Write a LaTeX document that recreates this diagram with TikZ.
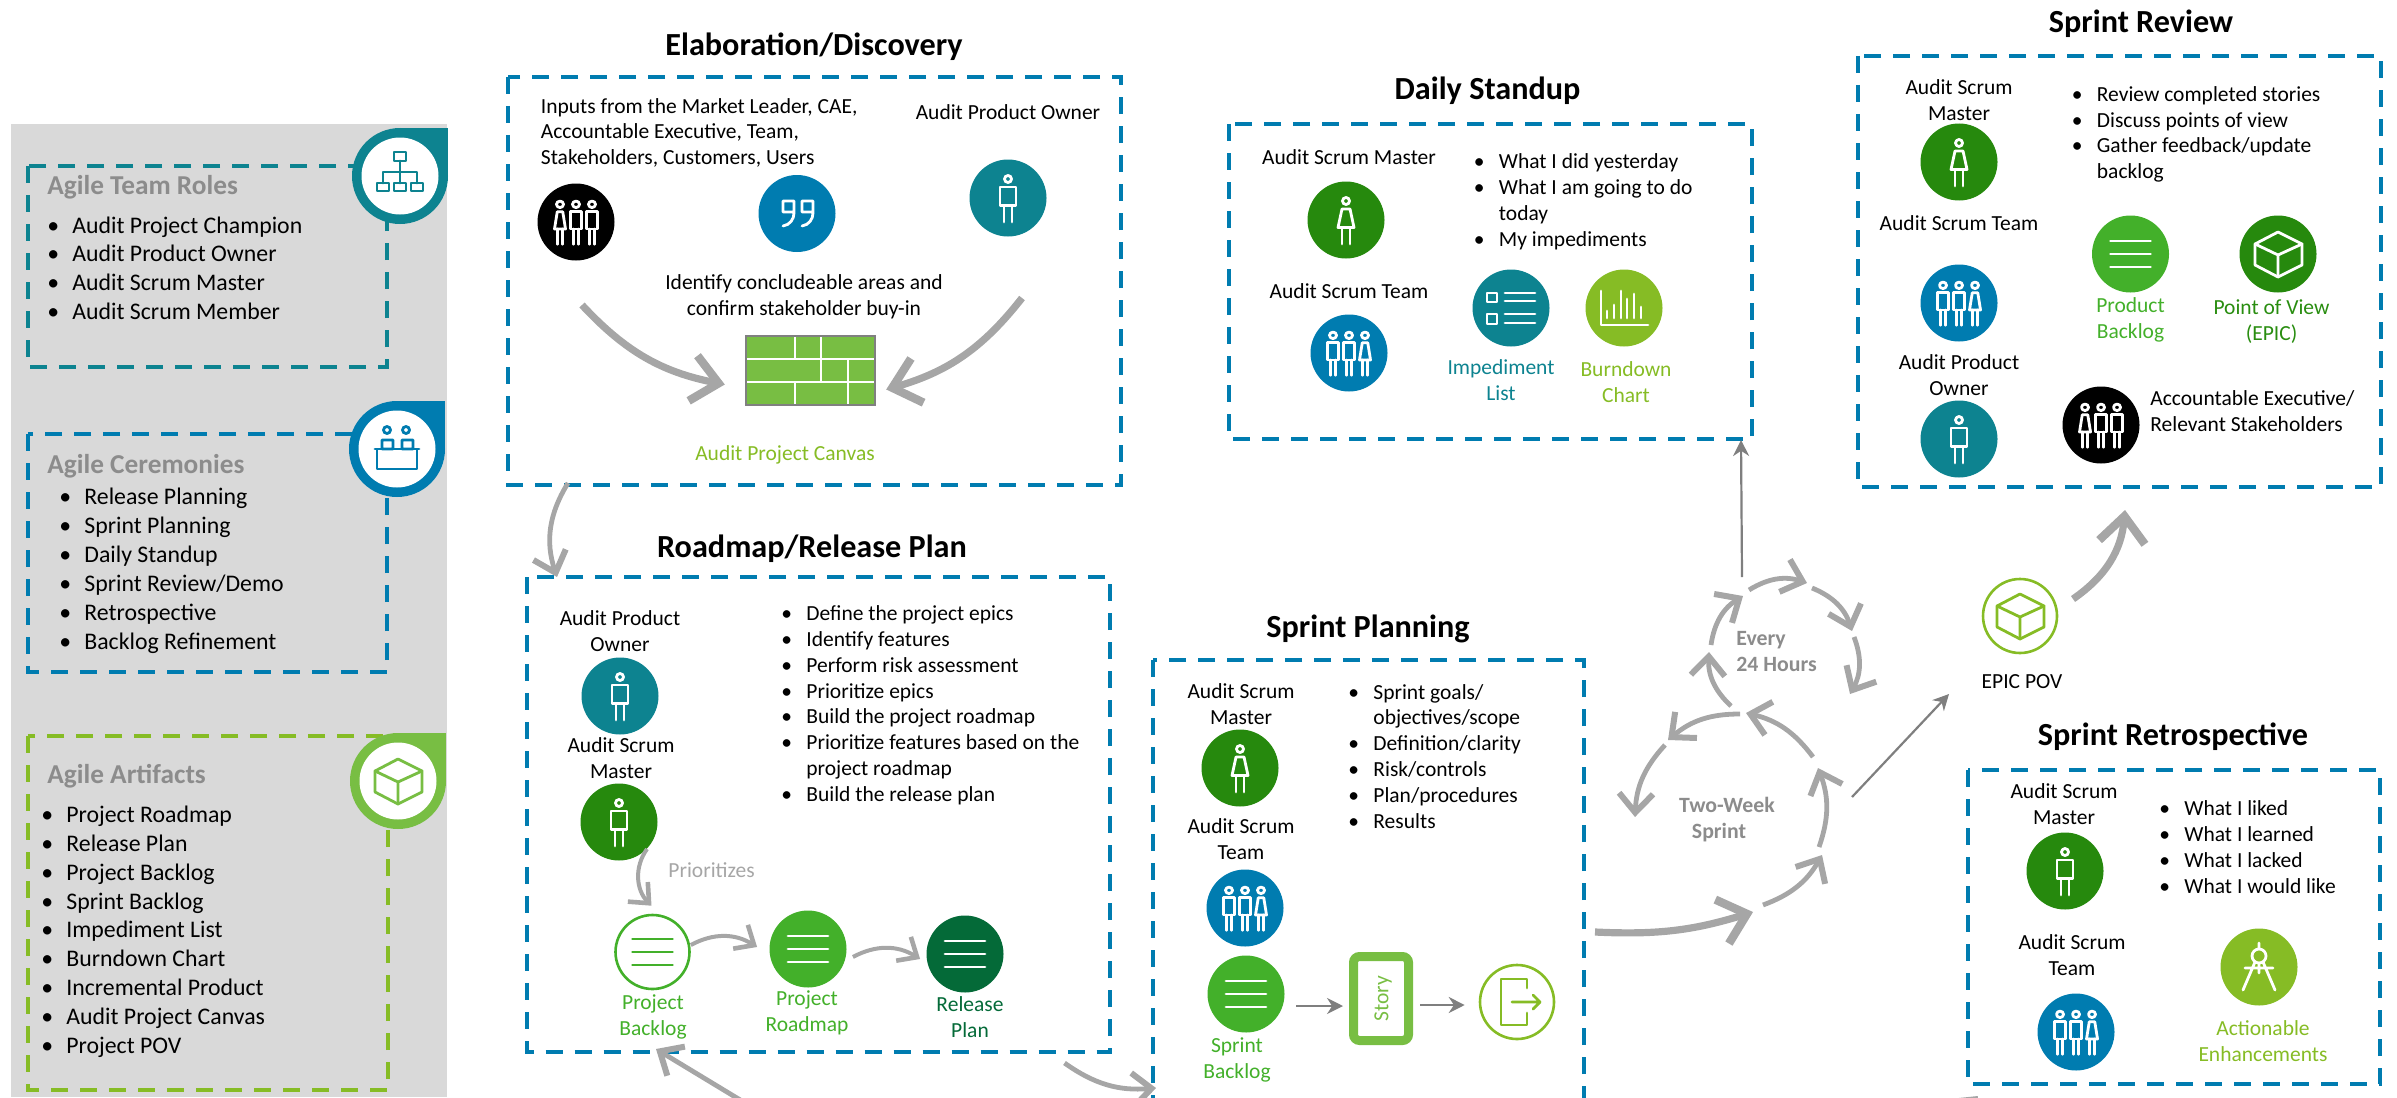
\documentclass[tikz,border=0pt]{standalone}
\usepackage{fontspec}
\setmainfont{Carlito}
\usetikzlibrary{positioning, calc, arrows.meta}
\definecolor{teal1}{HTML}{0D8390}
\definecolor{blue1}{HTML}{007CB0}
\definecolor{lime1}{HTML}{86BC25}
\definecolor{lime2}{HTML}{78BE43}
\definecolor{green1}{HTML}{43B02A}
\definecolor{green2}{HTML}{26890D}
\definecolor{green3}{HTML}{046A38}
\definecolor{sketchgray}{HTML}{A6A6A6}
\definecolor{thingray}{HTML}{7F7F7F}
\definecolor{capgray}{HTML}{8C8C8C}
\newcommand{\itm}[1]{\makebox[12.5pt][l]{\textbullet}#1}
\newcommand{\ind}{\hspace*{12.5pt}}
\tikzset{dashbox/.style={draw=#1, line width=2pt, dash pattern=on 8.5pt off 6pt}}
\tikzset{disc/.style={circle, minimum size=38.5pt, inner sep=0pt}}
\tikzset{lbl/.style={font=\fontsize{10.75}{12.9}\selectfont, align=center, inner sep=0pt}}
\tikzset{lst/.style={font=\fontsize{10.75}{12.9}\selectfont, align=left, inner sep=0pt, anchor=west, yshift=-.4pt}}
\tikzset{leglst/.style={font=\fontsize{11.9}{14.45}\selectfont, align=left, inner sep=0pt, anchor=west, yshift=-.1pt}}
\tikzset{ttl/.style={font=\fontsize{16.1}{19}\selectfont\bfseries, inner sep=0pt, yshift=-.7pt}}
\tikzset{legttl/.style={font=\fontsize{13.65}{16}\selectfont\bfseries, text=capgray, inner sep=0pt, anchor=west, yshift=-.7pt}}
\tikzset{capt/.style={font=\fontsize{10.9}{13}\selectfont\bfseries, text=capgray, inner sep=0pt, yshift=-.8pt}}
\tikzset{icon/.style={draw=#1, line width=1.4pt, line cap=round, line join=round}, icon/.default=white}
\tikzset{sketch/.style={draw=sketchgray, line width=2.4pt, -{Straight Barb[length=9.5pt, width=17pt, line width=3pt]}}}
\tikzset{sketchbig/.style={draw=sketchgray, line width=3.6pt, -{Straight Barb[length=13pt, width=23pt, line width=4.2pt]}}}
\tikzset{sketchsm/.style={draw=sketchgray, line width=2pt, -{Straight Barb[length=8pt, width=14pt, line width=2.3pt]}}}
\tikzset{thinarrow/.style={draw=thingray, line width=1.1pt, -{Stealth[length=8pt, width=8pt]}}}
\tikzset{
  pics/manfig/.style={code={
    \draw[icon] (0,-19) circle (3.5);
    \draw[icon] (-#1,-11) rectangle (#1,7.5);
    \draw[icon] (-#1/2,7.5) -- (-#1/2,24) (#1/2,7.5) -- (#1/2,24);
  }},
  pics/womanfig/.style={code={
    \draw[icon] (0,-19) circle (3.5);
    \draw[icon] (-#1/2,-11) -- (#1/2,-11) -- (#1,7.5) -- (-#1,7.5) -- cycle;
    \draw[icon] (-#1/2,7.5) -- (-#1/2,24) (#1/2,7.5) -- (#1/2,24);
  }},
  pics/teammmf/.style={code={
    \path (-16,0) pic[yscale=.93] {manfig=5.5} (0,0) pic[yscale=.93] {manfig=5.5} (16,0) pic[yscale=.93] {womanfig=5.5};
  }},
  pics/teamfmm/.style={code={
    \path (-16,0) pic[yscale=.93] {womanfig=5.5} (0,0) pic[yscale=.93] {manfig=5.5} (16,0) pic[yscale=.93] {manfig=5.5};
  }},
  pics/bars/.style={code={
    \draw[icon=#1] (-20,-13) -- (20,-13) (-20,0) -- (20,0) (-20,13) -- (20,13);
  }},
  pics/cube/.style={code={
    \draw[icon=#1] (0,-22) -- (24,-10) -- (24,11) -- (0,23) -- (-23,11) -- (-23,-10) -- cycle;
    \draw[icon=#1] (-23,-10) -- (0,1) -- (24,-10) (0,1) -- (0,23);
  }},
  pics/badge/.style={code={
    \fill[#1] (0,0) circle (48);
    \fill[#1] (0,0) rectangle (48,-48);
    \fill[white] (0,0) circle (38.5);
  }},
}
\begin{document}
\begin{tikzpicture}[x=.5pt, y=-.5pt]
  \clip (0,0) rectangle (2397,1097);
  \fill[black!15] (11,124) rectangle (447,1097);

  \draw[dashbox=teal1] (28,166) rectangle (387,367);
  \draw[dashbox=blue1] (28,434) rectangle (387,672);
  \draw[dashbox=lime1] (28,736) rectangle (388,1090);

  \path (400,176) pic {badge=teal1};
  \draw[icon=teal1] (394,152) rectangle (406,161) (400,161) -- (400,172) (383,183) -- (383,172) -- (417,172) -- (417,183) (400,172) -- (400,183);
  \draw[icon=teal1] (377,183) rectangle (389,191) (394,183) rectangle (406,191) (411,183) rectangle (423,191);
  \path (397,449) pic {badge=blue1};
  \draw[icon=blue1] (387,430) circle (3.5) (406,430) circle (3.5) (382,440) rectangle (393,449) (402,440) rectangle (413,449);
  \draw[icon=blue1] (375,449) -- (419,449) (377,449) rectangle (417,469);
  \path (398,781) pic {badge=lime2};
  \path (398,781) pic {cube=lime2};

  \node[legttl] (t1) at (47,186) {Agile Team Roles};
  \node[leglst] (l1) at (47,268) {\itm{Audit Project Champion}\\\itm{Audit Product Owner}\\\itm{Audit Scrum Master}\\\itm{Audit Scrum Member}};
  \node[legttl] (t2) at (47,465) {Agile Ceremonies};
  \node[leglst] (l2) at (59,570.5) {\itm{Release Planning}\\\itm{Sprint Planning}\\\itm{Daily Standup}\\\itm{Sprint Review/Demo}\\\itm{Retrospective}\\\itm{Backlog Refinement}};
  \node[legttl] (t3) at (47,775) {Agile Artifacts};
  \node[leglst] (l3) at (41,931.5) {\itm{Project Roadmap}\\\itm{Release Plan}\\\itm{Project Backlog}\\\itm{Sprint Backlog}\\\itm{Impediment List}\\\itm{Burndown Chart}\\\itm{Incremental Product}\\\itm{Audit Project Canvas}\\\itm{Project POV}};

  \node[ttl] (e0) at (814,45) {Elaboration/Discovery};
  \draw[dashbox=blue1] (508,77) rectangle (1121,485);
  \node[lst] (e1) at (540.5,132) {Inputs from the Market Leader, CAE,\\Accountable Executive, Team,\\Stakeholders, Customers, Users};
  \node[lbl] (e2) at (1008,112) {Audit Product Owner};
  \node[disc, fill=black] (e3) at (576,222) {};
  \path (e3) pic {teamfmm};
  \node[disc, fill=blue1] (e4) at (797,213.5) {};
  \draw[icon] (783,201) -- (783,212) -- (794,212) (783,201) -- (794,201) -- (794,213) .. controls (794,219) and (790,225) .. (783,226);
  \draw[icon] (802,201) -- (802,212) -- (813,212) (802,201) -- (813,201) -- (813,213) .. controls (813,219) and (809,225) .. (802,226);
  \node[disc, fill=teal1] (e5) at (1008,198) {};
  \path (e5) pic {manfig=8};
  \node[lbl] (e6) at (804,297) {Identify concludeable areas and\\confirm stakeholder buy-in};
  \node[draw=black!50, line width=1.2pt, fill=lime2, minimum width=64.5pt, minimum height=34.5pt, inner sep=0pt] (cv) at (810.5,370.5) {};
  \draw[white, line width=1pt] (747,358.5) -- (874,358.5) (747,381.5) -- (874,381.5) (795,337) -- (795,358.5) (821,337) -- (821,381.5) (848,358.5) -- (848,404) (795,381.5) -- (795,404);
  \node[lbl, text=lime1] (e7) at (785,455) {Audit Project Canvas};
  \coordinate (a1) at (582,305);
  \coordinate (a2) at ($(cv.west)+(-20,14)$);
  \coordinate (a3) at (1022,298);
  \coordinate (a4) at ($(cv.east)+(10,19)$);
  \draw[sketchbig] (a1) to[bend right=18] (a2);
  \draw[sketchbig] (a3) to[bend left=18] (a4);

  \coordinate (a5) at (568,483);
  \node[ttl] (r0) at (812,547) {Roadmap/Release Plan};
  \draw[dashbox=blue1] (527,577) rectangle (1110,1051.5);
  \coordinate (a6) at (557,577);
  \draw[sketch] (a5) to[bend right=25] (a6);
  \node[lbl] (r1) at (620,631.5) {Audit Product\\Owner};
  \node[disc, fill=teal1] (r2) at (620,696) {};
  \path (r2) pic {manfig=8};
  \node[lbl] (r3) at (621,758.5) {Audit Scrum\\Master};
  \node[disc, fill=green2] (r4) at (619,822) {};
  \path (r4) pic {manfig=8};
  \node[lst] (r5) at (781,704.5) {\itm{Define the project epics}\\\itm{Identify features}\\\itm{Perform risk assessment}\\\itm{Prioritize epics}\\\itm{Build the project roadmap}\\\itm{Prioritize features based on the}\\\ind project roadmap\\\itm{Build the release plan}};
  \node[lbl, text=sketchgray, anchor=west] (r6) at (668,870) {Prioritizes};
  \node[disc, draw=green1, line width=1.3pt, fill=white, minimum size=37pt] (r7) at (652.5,952) {};
  \path (r7) pic {bars=green1};
  \node[disc, fill=green1] (r8) at (808,949) {};
  \path (r8) pic {bars=white};
  \node[disc, fill=green3] (r9) at (965,954) {};
  \path (r9) pic {bars=white};
  \node[lbl, text=green1] (r10) at (653,1017) {Project\\Backlog};
  \node[lbl, text=green1] (r11) at (807,1013) {Project\\Roadmap};
  \node[lbl, text=green3] (r12) at (970,1017.5) {Release\\Plan};
  \coordinate (a7) at ($(r4)+(28,27)$);
  \coordinate (a8) at ($(r7.north)+(-1,-8)$);
  \draw[sketchsm] (a7) to[bend right=40] (a8);
  \coordinate (a9) at ($(r7.east)+(0,-7)$);
  \coordinate (a10) at ($(r8.west)+(-12,-2)$);
  \draw[sketchsm] (a9) to[bend left=30] (a10);
  \coordinate (a11) at ($(r8.east)+(6,8)$);
  \coordinate (a12) at ($(r9.west)+(-6,5)$);
  \draw[sketchsm] (a11) to[bend left=30] (a12);
  \coordinate (a13) at (770,1118);
  \coordinate (a14) at (656,1049);
  \draw[sketch] (a13) -- (a14);
  \coordinate (a15) at (1064.5,1063);
  \coordinate (a16) at (1156,1088);
  \draw[sketch] (a15) to[bend right=20] (a16);

  \node[ttl] (p0) at (1368,628) {Sprint Planning};
  \draw[dashbox=blue1] (1153,660) rectangle (1584,1130);
  \node[lbl] (p1) at (1241,704.5) {Audit Scrum\\Master};
  \node[disc, fill=green2] (p2) at (1240,768) {};
  \path (p2) pic {womanfig=8};
  \node[lbl] (p3) at (1241,839) {Audit Scrum\\Team};
  \node[disc, fill=blue1] (p4) at (1245,908) {};
  \path (p4) pic {teammmf};
  \node[disc, fill=green1] (p5) at (1246,994) {};
  \path (p5) pic {bars=white};
  \node[lbl, text=green1] (p6) at (1237,1060) {Sprint\\Backlog};
  \node[lst] (p7) at (1348,755.5) {\itm{Sprint goals/}\\\ind objectives/scope\\\itm{Definition/clarity}\\\itm{Risk/controls}\\\itm{Plan/procedures}\\\itm{Results}};
  \node[draw=lime2, line width=4.5pt, rounded corners=3pt, minimum width=27.5pt, minimum height=42pt, inner sep=0pt] (p8) at (1381,998.5) {};
  \node[lbl, text=lime2, rotate=90] (p9) at (1383,999) {Story};
  \node[disc, draw=lime1, line width=1.3pt, minimum size=37pt] (p10) at (1517,1002) {};
  \draw[icon=lime1] ($(p10)+(10,-14)$) -- ($(p10)+(10,-23)$) -- ($(p10)+(-16,-23)$) -- ($(p10)+(-16,23)$) -- ($(p10)+(10,23)$) -- ($(p10)+(10,11)$);
  \draw[icon=lime1] ($(p10)+(-5,0)$) -- ($(p10)+(23,0)$) ($(p10)+(16,-7)$) -- ($(p10)+(23,0)$) -- ($(p10)+(16,7)$);
  \coordinate (b1) at ($(p5)+(50,12)$);
  \coordinate (b2) at ($(p8.west)+(-6,7.5)$);
  \draw[thinarrow] (b1) -- (b2);
  \coordinate (b3) at ($(p8.east)+(7,6.5)$);
  \coordinate (b4) at ($(p10.west)+(-14,3)$);
  \draw[thinarrow] (b3) -- (b4);

  \node[ttl] (d0) at (1487.5,89) {Daily Standup};
  \draw[dashbox=blue1] (1229,124) rectangle (1752,439);
  \node[lbl] (d1) at (1349,157) {Audit Scrum Master};
  \node[disc, fill=green2] (d2) at (1346,220) {};
  \path (d2) pic {womanfig=8};
  \node[lbl] (d3) at (1349,291) {Audit Scrum Team};
  \node[disc, fill=blue1] (d4) at (1349,353) {};
  \path (d4) pic {teammmf};
  \node[lst] (d5) at (1473.5,201) {\itm{What I did yesterday}\\\itm{What I am going to do}\\\ind today\\\itm{My impediments}};
  \node[disc, fill=teal1] (d6) at (1511,308) {};
  \draw[icon] ($(d6)+(-24,-15)$) rectangle ($(d6)+(-14,-6)$) ($(d6)+(-24,6)$) rectangle ($(d6)+(-14,16)$);
  \draw[icon] ($(d6)+(-6,-15)$) -- ($(d6)+(24,-15)$) ($(d6)+(-6,-7)$) -- ($(d6)+(24,-7)$) ($(d6)+(-6,6)$) -- ($(d6)+(24,6)$) ($(d6)+(-6,15)$) -- ($(d6)+(24,15)$);
  \node[disc, fill=lime1] (d7) at (1624,308) {};
  \draw[icon] ($(d7)+(-23,-17)$) -- ($(d7)+(-23,17)$) -- ($(d7)+(24,17)$);
  \foreach \x/\y in {-17/3, -10/-3, -3/-17, 3/-9, 10/-14, 17/-1}
    \draw[icon] ($(d7)+(\x,\y)$) -- ($(d7)+(\x,10)$);
  \node[lbl, text=teal1] (d8) at (1501,380.5) {Impediment\\List};
  \node[lbl, text=lime1] (d9) at (1626,382.5) {Burndown\\Chart};

  \coordinate (c1) at (1742,577);
  \coordinate (c2) at (1741,440);
  \draw[thinarrow] (c1) -- (c2);
  \coordinate (s1) at (1711,645);
  \coordinate (s2) at (1743,596);
  \coordinate (s3) at (1749,590);
  \coordinate (s4) at (1807,583);
  \coordinate (s5) at (1812,588);
  \coordinate (s6) at (1852,631);
  \coordinate (s7) at (1854,637);
  \coordinate (s8) at (1850,694);
  \coordinate (s9) at (1731,706);
  \coordinate (s10) at (1709,652);
  \draw[sketch] (s1) to[bend left=25] (s2);
  \draw[sketch] (s3) to[bend left=25] (s4);
  \draw[sketch] (s5) to[bend left=25] (s6);
  \draw[sketch] (s7) to[bend left=25] (s8);
  \draw[sketch] (s9) to[bend left=25] (s10);
  \coordinate (u1) at (1813,757);
  \coordinate (u2) at (1746,713);
  \coordinate (u3) at (1740,714);
  \coordinate (u4) at (1668,740);
  \coordinate (u5) at (1665,745);
  \coordinate (u6) at (1635,817);
  \coordinate (u7) at (1819,847);
  \coordinate (u8) at (1818,768);
  \coordinate (u9) at (1763,905);
  \coordinate (u10) at (1822,855);
  \coordinate (u11) at (1595,932);
  \coordinate (u12) at (1753,912);
  \draw[sketch] (u1) to[bend right=20] (u2);
  \draw[sketch] (u3) to[bend right=20] (u4);
  \draw[sketch] (u5) to[bend right=20] (u6);
  \draw[sketch] (u7) to[bend right=20] (u8);
  \draw[sketch] (u9) to[bend right=20] (u10);
  \draw[sketchbig] (u11) to[bend right=10] (u12);
  \node[capt, anchor=west, align=left] (c3) at (1736,650) {Every\\24 Hours};
  \node[capt, align=center] (c4) at (1727,817.5) {Two-Week\\Sprint\hspace*{8pt}};
  \coordinate (c5) at (1852,797);
  \coordinate (c6) at (1949,694);
  \draw[thinarrow] (c5) -- (c6);
  \node[disc, draw=lime1, line width=1.3pt, minimum size=37pt] (c7) at (2020,616) {};
  \path (c7) pic {cube=lime1};
  \node[lbl] (c8) at (2022,682) {EPIC POV};
  \coordinate (c9) at (2073,599);
  \coordinate (c10) at (2125,510);
  \draw[sketchbig] (c9) to[bend right=25] (c10);

  \node[ttl] (v0) at (2141,22) {Sprint Review};
  \draw[dashbox=blue1] (1858,56) rectangle (2381,487);
  \node[lbl] (v1) at (1959,100.5) {Audit Scrum\\Master};
  \node[disc, fill=green2] (v2) at (1959,162) {};
  \path (v2) pic {womanfig=8};
  \node[lbl] (v3) at (1959,223) {Audit Scrum Team};
  \node[disc, fill=blue1] (v4) at (1959,303) {};
  \path (v4) pic {teammmf};
  \node[lbl] (v5) at (1959,375.5) {Audit Product\\Owner};
  \node[disc, fill=teal1] (v6) at (1959,439) {};
  \path (v6) pic {manfig=8};
  \node[lst] (v7) at (2071.5,133.5) {\itm{Review completed stories}\\\itm{Discuss points of view}\\\itm{Gather feedback/update}\\\ind backlog};
  \node[disc, fill=green1] (v8) at (2130.5,254) {};
  \path (v8) pic {bars=white};
  \node[disc, fill=green2] (v9) at (2278,254) {};
  \path (v9) pic {cube=white};
  \node[lbl, text=green1] (v10) at (2130.5,320) {Product\\Backlog};
  \node[lbl, text=green2!90!green1] (v11) at (2271.5,321.5) {Point of View\\(EPIC)};
  \node[disc, fill=black] (v12) at (2101,425) {};
  \path (v12) pic {teamfmm};
  \node[lst] (v13) at (2150,410.5) {Accountable Executive/\\Relevant Stakeholders};

  \node[ttl] (o0) at (2173,735) {Sprint Retrospective};
  \draw[dashbox=blue1] (1968,770) rectangle (2380,1084);
  \node[lbl] (o1) at (2064,804.5) {Audit Scrum\\Master};
  \node[disc, fill=green2] (o2) at (2065,871) {};
  \path (o2) pic {manfig=8};
  \node[lbl] (o3) at (2072,955.5) {Audit Scrum\\Team};
  \node[disc, fill=blue1] (o4) at (2076,1032) {};
  \path (o4) pic {teammmf};
  \node[lst] (o5) at (2159,846.5) {\itm{What I liked}\\\itm{What I learned}\\\itm{What I lacked}\\\itm{What I would like}};
  \node[disc, fill=lime1] (o6) at (2259,967) {};
  \draw[icon] ($(o6)+(0,-11)$) circle (7) ($(o6)+(0,-24)$) -- ($(o6)+(0,-18)$) ($(o6)+(-4,-5)$) -- ($(o6)+(-16,23)$) ($(o6)+(4,-5)$) -- ($(o6)+(16,23)$) ($(o6)+(-14,1)$) -- ($(o6)+(14,1)$) ($(o6)+(0,-4)$) -- ($(o6)+(0,6)$);
  \node[lbl, text=lime1] (o7) at (2263,1041) {Actionable\\Enhancements};
  \coordinate (o8) at (1930,1104);
  \coordinate (o9) at (1978,1099);
  \draw[draw=sketchgray, line width=3pt] (o8) -- (o9);
\end{tikzpicture}
\end{document}
